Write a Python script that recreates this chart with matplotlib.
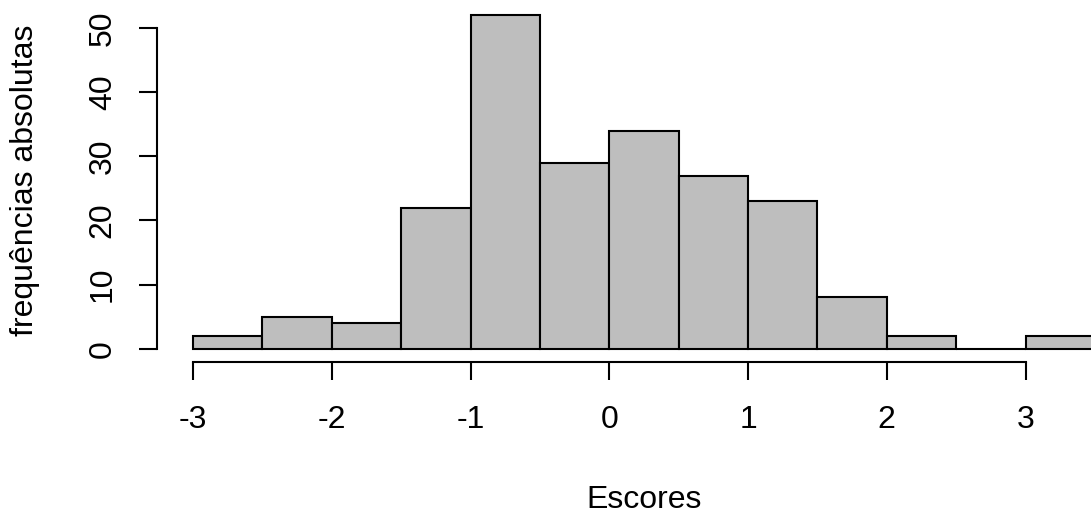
import matplotlib.pyplot as plt
import numpy as np

plt.rcParams['font.family'] = ['Liberation Sans', 'DejaVu Sans']

# histogram of scores, breaks of 0.5
breaks = [-3.0, -2.5, -2.0, -1.5, -1.0, -0.5, 0.0, 0.5, 1.0, 1.5, 2.0, 2.5, 3.0, 3.5]
counts = [2, 5, 4, 22, 52, 29, 34, 27, 23, 8, 2, 0, 2]
xticks = [-3, -2, -1, 0, 1, 2, 3]
yticks = [0, 10, 20, 30, 40, 50]

W, H = 1091, 513
fig = plt.figure(figsize=(W / 100, H / 100), dpi=100)

# plot region in pixels (R style: range extended by 4%)
left, right, top, bottom = 157, 1131, 2, 362
ax = fig.add_axes([left / W, 1 - bottom / H, (right - left) / W, (bottom - top) / H])

lefts = np.array(breaks[:-1])
widths = np.diff(breaks)
ax.bar(lefts, counts, width=widths, align='edge', color='#BEBEBE',
       edgecolor='black', linewidth=1.5)

xr = breaks[-1] - breaks[0]
ax.set_xlim(breaks[0] - 0.04 * xr, breaks[-1] + 0.04 * xr)
yr = max(counts)
ax.set_ylim(-0.04 * yr, yr * 1.04)

for s in ['top', 'right']:
    ax.spines[s].set_visible(False)
ax.spines['left'].set_bounds(yticks[0], yticks[-1])
ax.spines['bottom'].set_bounds(xticks[0], xticks[-1])
for s in ['left', 'bottom']:
    ax.spines[s].set_linewidth(1.5)

ax.set_xticks(xticks)
ax.set_yticks(yticks)
ax.set_xticklabels([str(t) for t in xticks])
ax.set_yticklabels([str(t) for t in yticks])
ax.tick_params(axis='both', length=13, width=1.5, labelsize=23)
ax.tick_params(axis='x', pad=18)
ax.tick_params(axis='y', pad=26)
plt.setp(ax.get_yticklabels(), rotation=90, va='center', ha='center')

fig.text(25 / W, 1 - 180 / H, 'frequências absolutas', rotation=90,
         ha='center', va='center', fontsize=23)
fig.text(644 / W, 1 - 508 / H, 'Escores', ha='center', va='baseline', fontsize=23)

fig.savefig('out.png', dpi=100)
